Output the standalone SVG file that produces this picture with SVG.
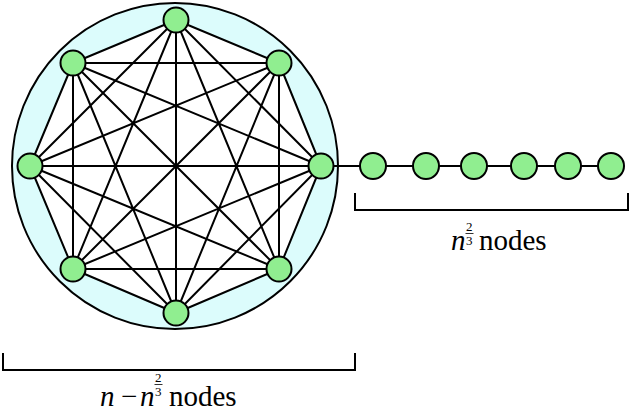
<svg xmlns="http://www.w3.org/2000/svg" width="630" height="412" viewBox="0 0 630 412">
<style>
.n{fill:#90ee90;stroke:#000;stroke-width:2}
.e{stroke:#000;stroke-width:2;fill:none}
.t{font-size:29px}
.i{font-style:italic}
.s{font-size:13px}
</style>
<rect width="630" height="412" fill="#fff"/>
<g id="cluster">
<circle cx="175" cy="166" r="163" fill="#dcfcfc" stroke="#000" stroke-width="2"/>
<polygon points="176,20 279,63 321,166 279,269 176,313 73,269 30,166 73,63" fill="#fff"/>
</g>
<g id="connectors" class="e">
<path d="M176,20L73,63M176,20L279,63M176,20L30,166M176,20L321,166M176,20L73,269M176,20L279,269M176,20L176,313
M73,63L279,63M73,63L30,166M73,63L321,166M73,63L73,269M73,63L279,269M73,63L176,313
M279,63L30,166M279,63L321,166M279,63L73,269M279,63L279,269M279,63L176,313
M30,166L321,166M30,166L73,269M30,166L279,269M30,166L176,313
M321,166L73,269M321,166L279,269M321,166L176,313
M73,269L279,269M73,269L176,313
M279,269L176,313
M321,166L612,166"/>
</g>
<g id="k1"><circle class="n" cx="176" cy="20" r="12.5"/></g>
<g id="k2"><circle class="n" cx="73" cy="63" r="12.5"/></g>
<g id="k3"><circle class="n" cx="279" cy="63" r="12.5"/></g>
<g id="k4"><circle class="n" cx="30" cy="166" r="12.5"/></g>
<g id="k5"><circle class="n" cx="321" cy="166" r="12.5"/></g>
<g id="k6"><circle class="n" cx="73" cy="269" r="12.5"/></g>
<g id="k7"><circle class="n" cx="279" cy="269" r="12.5"/></g>
<g id="k8"><circle class="n" cx="176" cy="313" r="12.5"/></g>
<g id="p1"><circle class="n" cx="373" cy="166" r="13"/></g>
<g id="p2"><circle class="n" cx="426" cy="166" r="13"/></g>
<g id="p3"><circle class="n" cx="474" cy="166" r="13"/></g>
<g id="p4"><circle class="n" cx="524" cy="166" r="13"/></g>
<g id="p5"><circle class="n" cx="568" cy="166" r="13"/></g>
<g id="p6"><circle class="n" cx="611" cy="166" r="13"/></g>
<g id="brace-right" font-family="Liberation Serif, DejaVu Serif, serif" fill="#000">
<path class="e" d="M355,193V210H628V193"/>
<text class="t i" x="451" y="250">n</text>
<text class="s" x="466" y="231">2</text>
<line x1="465.5" y1="233.5" x2="473.5" y2="233.5" stroke="#000" stroke-width="0.8"/>
<text class="s" x="466" y="245">3</text>
<text class="t" x="479" y="250">nodes</text>
</g>
<g id="brace-left" font-family="Liberation Serif, DejaVu Serif, serif" fill="#000">
<path class="e" d="M3,353V370H355V353"/>
<text class="t i" x="100" y="406">n</text>
<text class="t" x="121" y="406">−</text>
<text class="t i" x="140" y="406">n</text>
<text class="s" x="155" y="382">2</text>
<line x1="154.5" y1="384.5" x2="162.5" y2="384.5" stroke="#000" stroke-width="0.8"/>
<text class="s" x="155" y="396">3</text>
<text class="t" x="169" y="406">nodes</text>
</g>
</svg>
